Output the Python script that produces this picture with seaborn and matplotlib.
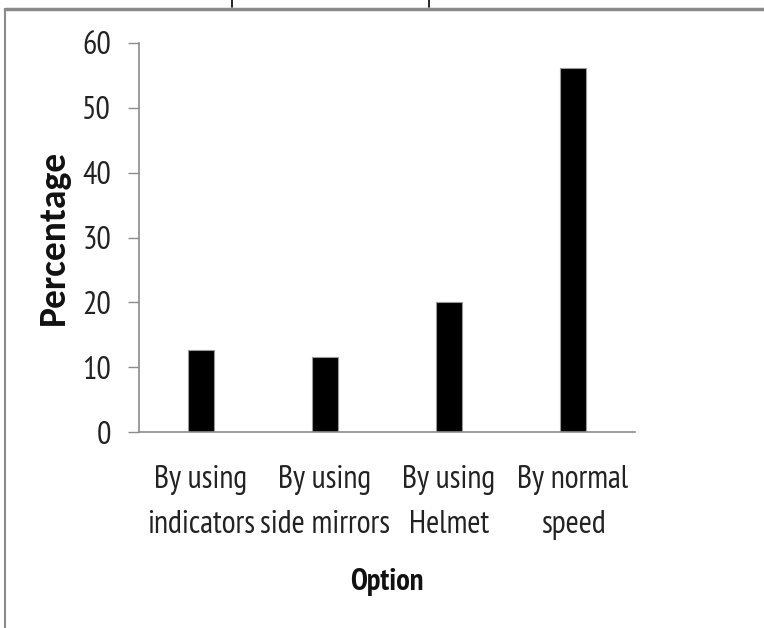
import matplotlib
matplotlib.use("Agg")
import matplotlib.pyplot as plt
from matplotlib.lines import Line2D
import seaborn as sns
import pandas as pd

options = ["By using\nindicators", "By using\nside mirrors", "By using\nHelmet", "By normal\nspeed"]
percentages = [12.7, 11.5, 20.0, 56.2]
y_ticks = [0, 10, 20, 30, 40, 50, 60]

sns.set_style("white")
FONT = ["PT Sans Narrow", "Carlito", "DejaVu Sans"]
plt.rcParams["font.family"] = FONT

df = pd.DataFrame({"Option": options, "Percentage": percentages})

fig = plt.figure(figsize=(7.64, 6.28), dpi=100)
ax = fig.add_axes([139 / 764, 1 - 432 / 628, 496 / 764, 389 / 628])

sns.barplot(data=df, x="Option", y="Percentage", color="black", width=0.21,
            edgecolor="#9a9a9a", linewidth=0.8, ax=ax, saturation=1)

ax.set_ylim(0, 60)
ax.set_xlim(-0.5, 3.5)
ax.set_yticks(y_ticks)
ax.set_yticklabels([str(t) for t in y_ticks], fontsize=23, color="#222222")
ax.tick_params(axis="y", direction="out", length=8, width=1, color="#8c8c8c", pad=12, left=True)
ax.tick_params(axis="x", length=0, pad=24, labelsize=23, labelcolor="#222222")
for lab in ax.get_xticklabels():
    lab.set_linespacing(1.65)

for s in ["top", "right"]:
    ax.spines[s].set_visible(False)
for s in ["left", "bottom"]:
    ax.spines[s].set_color("#8c8c8c")
    ax.spines[s].set_linewidth(1.2)

ax.set_xlabel("Option", fontsize=22, fontweight="bold", labelpad=20, color="#111111")
ax.set_ylabel("Percentage", fontsize=27, fontweight="bold", labelpad=9, color="#111111",
              family=["Carlito", "DejaVu Sans"])

# outer frame lines of the cropped source
fig.add_artist(Line2D([5 / 764, 1], [1 - 9 / 628, 1 - 9 / 628], color="#8a8a8a", lw=2.5,
                      transform=fig.transFigure))
fig.add_artist(Line2D([5 / 764, 5 / 764], [0, 1 - 9 / 628], color="#8a8a8a", lw=1.5,
                      transform=fig.transFigure))
for xp in (232, 429):
    fig.add_artist(Line2D([xp / 764, xp / 764], [1 - 7 / 628, 1], color="black", lw=1.2,
                          transform=fig.transFigure))

fig.savefig("out.png", dpi=100, facecolor="white")
